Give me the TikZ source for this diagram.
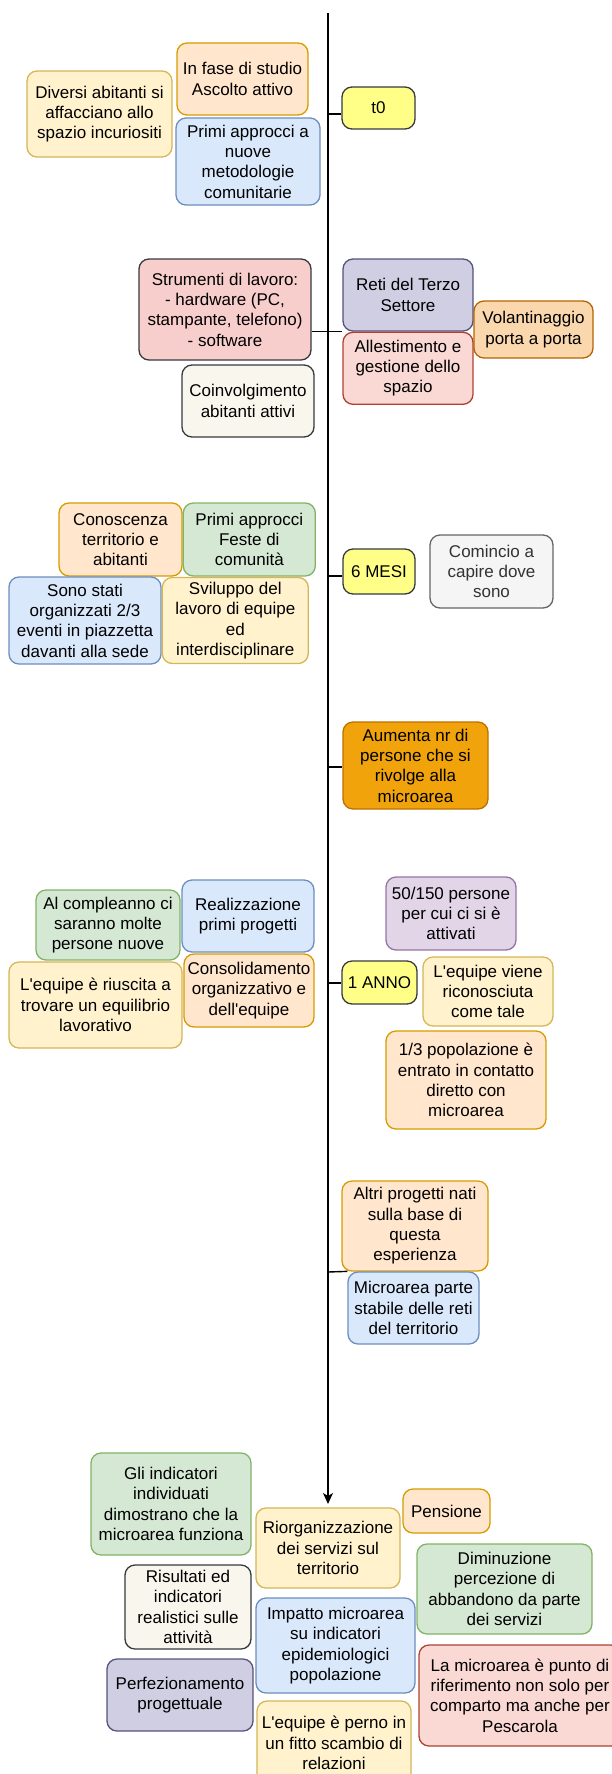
\documentclass[tikz,border=0pt]{standalone}
\usepackage{fontspec}
\setmainfont{Liberation Sans}
\usepackage{xcolor}
\usepackage{tikz}
\usetikzlibrary{arrows.meta,positioning}
\definecolor{peachF}{RGB}{255,230,204}
\definecolor{peachD}{RGB}{215,155,0}
\definecolor{sandF}{RGB}{255,242,204}
\definecolor{sandD}{RGB}{214,182,86}
\definecolor{skyF}{RGB}{218,232,252}
\definecolor{skyD}{RGB}{108,142,191}
\definecolor{sageF}{RGB}{213,232,212}
\definecolor{sageD}{RGB}{130,179,102}
\definecolor{roseF}{RGB}{248,206,204}
\definecolor{darkD}{RGB}{54,57,61}
\definecolor{blushF}{RGB}{250,217,213}
\definecolor{blushD}{RGB}{174,65,50}
\definecolor{lilacF}{RGB}{225,213,231}
\definecolor{lilacD}{RGB}{150,115,166}
\definecolor{slateF}{RGB}{208,206,226}
\definecolor{slateD}{RGB}{86,81,126}
\definecolor{creamF}{RGB}{249,247,237}
\definecolor{mistF}{RGB}{245,245,245}
\definecolor{mistD}{RGB}{102,102,102}
\definecolor{mistT}{RGB}{51,51,51}
\definecolor{lemonF}{RGB}{255,255,136}
\definecolor{tanF}{RGB}{250,215,172}
\definecolor{tanD}{RGB}{180,101,4}
\definecolor{amberF}{RGB}{240,163,10}
\definecolor{amberD}{RGB}{189,112,0}
\newcommand{\ap}{\textquotesingle}

\begin{document}
\begin{tikzpicture}[x=1pt, y=-1pt, font=\fontsize{17}{20.3}\selectfont,
  box/.style={draw, rounded corners=10pt, align=center, line width=1.3pt, inner sep=1pt},
  wh/.style 2 args={minimum width=#1pt, minimum height=#2pt},
  peach/.style={box, fill=peachF, draw=peachD},
  sand/.style={box, fill=sandF, draw=sandD},
  sky/.style={box, fill=skyF, draw=skyD},
  sage/.style={box, fill=sageF, draw=sageD},
  rose/.style={box, fill=roseF, draw=darkD},
  blush/.style={box, fill=blushF, draw=blushD},
  lilac/.style={box, fill=lilacF, draw=lilacD},
  slate/.style={box, fill=slateF, draw=slateD},
  cream/.style={box, fill=creamF, draw=darkD},
  mist/.style={box, fill=mistF, draw=mistD, text=mistT},
  lemon/.style={box, fill=lemonF, draw=darkD},
  tan/.style={box, fill=tanF, draw=tanD},
  amber/.style={box, fill=amberF, draw=amberD},
  axis/.style={line width=1.4pt, -{Stealth[length=11pt,width=10pt,inset=3pt]}},
  tick/.style={line width=1.4pt}]
\useasboundingbox (0,0) rectangle (612,1774);
\clip (0,0) rectangle (612,1774);

% timeline
\coordinate (start) at (328,13);
\coordinate (stop) at (328,1504);
\draw[axis] (start) -- (stop);

% t0
\node[peach, wh={131}{72}] (fase) at (242.5,79) {In fase di studio\\Ascolto attivo};
\node[sand, wh={145}{86}] (diversi) at (99.5,114) {Diversi abitanti si\\affacciano allo\\spazio incuriositi};
\node[sky, wh={144}{87}] (metodi) at (248,161.5) {Primi approcci a\\nuove\\metodologie\\comunitarie};
\node[lemon, wh={73}{42}] (t0) at (378.5,108) {t0};

\node[rose, wh={172}{101}] (strum) at (225,309.5) {Strumenti di lavoro:\\- hardware (PC,\\stampante, telefono)\\- software};
\node[cream, wh={132}{72}] (coinv) at (248,401) {Coinvolgimento\\abitanti attivi};
\node[slate, wh={130}{72}] (reti) at (408,295) {Reti del Terzo\\Settore};
\node[blush, wh={130}{72}, below=0pt of reti] (allest) {Allestimento e\\gestione dello\\spazio};
\node[tan, wh={119}{57}] (volant) at (533.5,329.5) {Volantinaggio\\porta a porta};

% 6 mesi
\node[peach, wh={123}{73}] (conosc) at (120.5,539.5) {Conoscenza\\territorio e\\abitanti};
\node[sage, wh={132}{73}, right=0pt of conosc] (feste) {Primi approcci\\Feste di\\comunità};
\node[sky, wh={152}{87}] (eventi) at (85,620.5) {Sono stati\\organizzati 2/3\\eventi in piazzetta\\davanti alla sede};
\node[sand, wh={146}{86}, right=0pt of eventi] (sviluppo) {Sviluppo del\\lavoro di equipe\\ed\\interdisciplinare};
\node[lemon, wh={72}{45}] (sei) at (379,571.5) {6 MESI};
\node[mist, wh={123}{73}] (comincio) at (491.5,571.5) {Comincio a\\capire dove\\sono};
\node[amber, wh={145}{87}] (aumenta) at (415.5,765.5) {Aumenta nr di\\persone che si\\rivolge alla\\microarea};

% 1 anno
\node[sage, wh={144}{70}] (compl) at (108,925) {Al compleanno ci\\saranno molte\\persone nuove};
\node[sky, wh={132}{72}] (realizz) at (248,916) {Realizzazione\\primi progetti};
\node[sand, wh={173}{86}] (equil) at (95.5,1005) {L\ap equipe è riuscita a\\trovare un equilibrio\\lavorativo};
\node[peach, wh={130}{73}] (consol) at (249,990.5) {Consolidamento\\organizzativo e\\dell\ap equipe};
\node[lilac, wh={130}{73}] (attivati) at (451,913.5) {50/150 persone\\per cui ci si è\\attivati};
\node[lemon, wh={75}{43}] (anno) at (379.5,982.5) {1 ANNO};
\node[sand, wh={130}{69}] (ricon) at (488,991.5) {L\ap equipe viene\\riconosciuta\\come tale};
\node[peach, wh={160}{98}] (contatto) at (466,1080) {1/3 popolazione è\\entrato in contatto\\diretto con\\microarea};
\node[peach, wh={146}{90}] (altri) at (415,1226) {Altri progetti nati\\sulla base di\\questa\\esperienza};
\node[sky, wh={131}{72}] (stabile) at (413.5,1308) {Microarea parte\\stabile delle reti\\del territorio};

% esiti
\node[sage, wh={160}{102}] (indic) at (171,1504) {Gli indicatori\\individuati\\dimostrano che la\\microarea funziona};
\node[sand, wh={144}{80}] (riorg) at (328,1548) {Riorganizzazione\\dei servizi sul\\territorio};
\node[peach, wh={87}{44}] (pensione) at (446.5,1511) {Pensione};
\node[sage, wh={175}{90}] (diminuz) at (504.5,1589) {Diminuzione\\percezione di\\abbandono da parte\\dei servizi};
\node[cream, wh={126}{84}] (risult) at (188,1607) {Risultati ed\\indicatori\\realistici sulle\\attività};
\node[sky, wh={159}{95}] (impatto) at (335.5,1645.5) {Impatto microarea\\su indicatori\\epidemiologici\\popolazione};
\node[blush, wh={202}{101}] (rifer) at (520,1695.5) {La microarea è punto di\\riferimento non solo per\\comparto ma anche per\\Pescarola};
\node[slate, wh={146}{72}] (perfez) at (180,1695) {Perfezionamento\\progettuale};
\node[sand, wh={154}{84}] (perno) at (334,1743) {L\ap equipe è perno in\\un fitto scambio di\\relazioni};

% ticks
\coordinate (k0) at (328,114);
\coordinate (k1) at (328,331.5);
\coordinate (k2) at (328,576);
\coordinate (k3) at (328,767);
\coordinate (k4) at (328,983);
\coordinate (k5) at (328,1272);
\draw[tick] (k0) -- (k0 -| t0.west);
\draw[tick] (k1 -| strum.east) -- (k1 -| reti.west);
\draw[tick] (k2) -- (k2 -| sei.west);
\draw[tick] (k3) -- (k3 -| aumenta.west);
\draw[tick] (k4) -- (k4 -| anno.west);
\draw[tick] (k5) -- (stabile.north west);
\end{tikzpicture}
\end{document}
